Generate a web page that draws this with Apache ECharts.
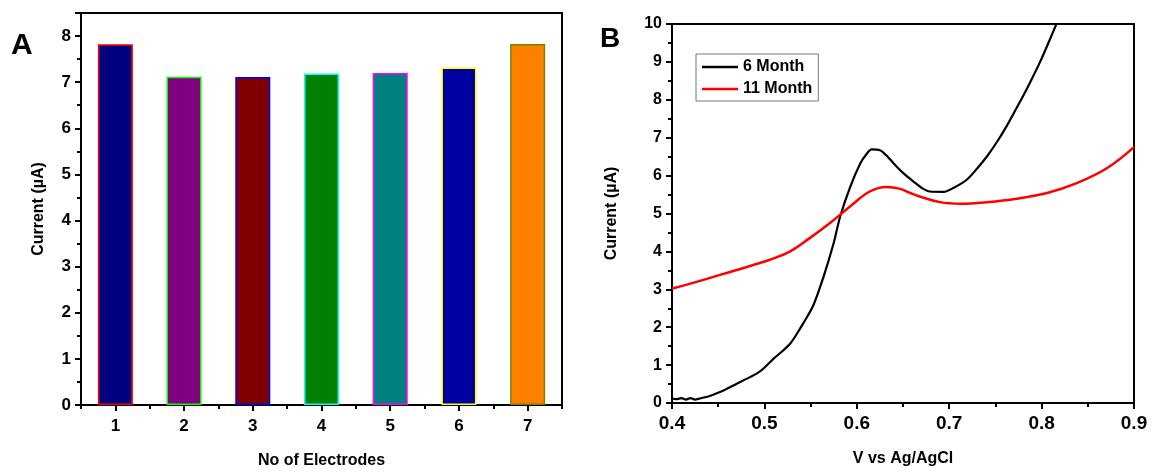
<!DOCTYPE html>
<html>
<head>
<meta charset="utf-8">
<script src="https://cdn.jsdelivr.net/npm/echarts@6/dist/echarts.min.js"></script>
<style>html,body{margin:0;padding:0;background:#fff}#c{width:1153px;height:474px}</style>
</head>
<body>
<div id="c"></div>
<script>
// Panel A data
const electrodes = ['1','2','3','4','5','6','7'];
const currentA = [7.82, 7.12, 7.11, 7.19, 7.20, 7.32, 7.83];
const barFill = ['#000080','#800080','#800000','#008000','#008080','#0000A0','#FF8000'];
const barEdge = ['#FF0000','#00FF00','#0000FF','#00FFFF','#FF00FF','#FFFF00','#808000'];

// Panel B data: [V, current]
const month6 = [[0.400,0.12],[0.405,0.10],[0.410,0.13],[0.415,0.09],[0.420,0.13],[0.425,0.09],[0.430,0.12],
  [0.440,0.18],[0.452,0.29],[0.460,0.38],[0.470,0.51],[0.480,0.63],[0.492,0.78],[0.500,0.93],[0.510,1.17],
  [0.520,1.38],[0.528,1.57],[0.535,1.82],[0.542,2.10],[0.553,2.58],[0.564,3.33],[0.575,4.22],[0.582,4.92],
  [0.593,5.71],[0.604,6.33],[0.610,6.55],[0.616,6.69],[0.625,6.67],[0.634,6.48],[0.643,6.24],[0.650,6.07],
  [0.661,5.85],[0.670,5.68],[0.679,5.58],[0.694,5.57],[0.705,5.68],[0.719,5.89],[0.730,6.18],[0.741,6.51],
  [0.752,6.90],[0.762,7.30],[0.771,7.70],[0.780,8.10],[0.789,8.53],[0.798,8.98],[0.807,9.48],[0.816,10.0],[0.822,10.35]];
const month11 = [[0.400,3.02],[0.417,3.13],[0.434,3.25],[0.452,3.38],[0.470,3.51],[0.488,3.64],[0.506,3.78],
  [0.528,4.00],[0.549,4.35],[0.571,4.75],[0.593,5.19],[0.614,5.58],[0.632,5.70],[0.647,5.65],[0.658,5.54],
  [0.668,5.45],[0.690,5.30],[0.712,5.26],[0.741,5.30],[0.773,5.39],[0.806,5.54],[0.838,5.80],[0.871,6.20],[0.900,6.75]];

const FONT = '"Liberation Sans", Arial, sans-serif';
const chart = echarts.init(document.getElementById('c'), null, {renderer:'canvas'});
const axisLine = {show:true, lineStyle:{color:'#000', width:2}};
const lbl = (size, margin) => ({color:'#000', fontFamily:FONT, fontWeight:'bold', fontSize:size, margin:margin});
const nameStyle = {color:'#000', fontFamily:FONT, fontWeight:'bold', fontSize:16};

chart.setOption({
  animation:false,
  backgroundColor:'#fff',
  graphic:[
    {type:'text', left:11, top:31, style:{text:'A', fontFamily:FONT, fontWeight:'bold', fontSize:30, fill:'#000'}},
    {type:'text', left:600, top:25, style:{text:'B', fontFamily:FONT, fontWeight:'bold', fontSize:28, fill:'#000'}}
  ],
  grid:[
    {left:81, right:591, top:13, bottom:68, show:true, borderColor:'#000', borderWidth:2, backgroundColor:'transparent'},
    {left:672, right:19, top:24, bottom:71, show:true, borderColor:'#000', borderWidth:2, backgroundColor:'transparent'}
  ],
  legend:{
    show:true, orient:'vertical', left:696, top:54,
    padding:[5,6,4,6], itemGap:6, itemWidth:36, itemHeight:2.5, icon:'rect',
    borderColor:'#777', borderWidth:1,
    textStyle:{color:'#000', fontFamily:FONT, fontWeight:'bold', fontSize:16, lineHeight:16},
    data:['6 Month','11 Month']
  },
  xAxis:[
    {type:'category', gridIndex:0, data:electrodes, boundaryGap:true,
     name:'No of Electrodes', nameLocation:'middle', nameGap:48, nameTextStyle:nameStyle,
     axisLine:axisLine, axisTick:{show:true, alignWithLabel:true, length:6, lineStyle:{color:'#000', width:2}},
     axisLabel:lbl(17,13), splitLine:{show:false}},
    {type:'category', gridIndex:0, data:electrodes, boundaryGap:true, position:'bottom',
     axisLine:{show:false}, axisTick:{show:true, length:4, lineStyle:{color:'#000', width:2}},
     axisLabel:{show:false}, splitLine:{show:false}},
    {type:'value', gridIndex:1, min:0.4, max:0.9, interval:0.1,
     name:'V vs Ag/AgCl', nameLocation:'middle', nameGap:48, nameTextStyle:nameStyle,
     axisLine:axisLine, axisTick:{show:true, length:6, lineStyle:{color:'#000', width:2}},
     minorTick:{show:true, splitNumber:2, length:4, lineStyle:{color:'#000', width:2}},
     axisLabel:Object.assign(lbl(19,11), {formatter:v=>v.toFixed(1)}), splitLine:{show:false}}
  ],
  yAxis:[
    {type:'value', gridIndex:0, min:0, max:8.5, interval:1,
     name:'Current (µA)', nameLocation:'middle', nameGap:34, nameTextStyle:nameStyle,
     axisLine:axisLine, axisTick:{show:true, length:6, lineStyle:{color:'#000', width:2}},
     minorTick:{show:true, splitNumber:2, length:4, lineStyle:{color:'#000', width:2}},
     axisLabel:Object.assign(lbl(17,10), {formatter:v=>(v%1===0?String(v):'')}), splitLine:{show:false}},
    {type:'value', gridIndex:1, min:0, max:10, interval:1,
     name:'Current (µA)', nameLocation:'middle', nameGap:52, nameTextStyle:nameStyle,
     axisLine:axisLine, axisTick:{show:true, length:6, lineStyle:{color:'#000', width:2}},
     minorTick:{show:true, splitNumber:2, length:4, lineStyle:{color:'#000', width:2}},
     axisLabel:lbl(16,10), splitLine:{show:false}}
  ],
  series:[
    {type:'bar', xAxisIndex:0, yAxisIndex:0, barWidth:'51%',
     data:currentA.map((v,i)=>({value:v, itemStyle:{color:barFill[i], borderColor:barEdge[i], borderWidth:1.5}}))},
    {type:'line', name:'6 Month', xAxisIndex:2, yAxisIndex:1, data:month6, smooth:0.3, symbol:'none',
     clip:true, lineStyle:{color:'#000', width:2.2}, itemStyle:{color:'#000'}},
    {type:'line', name:'11 Month', xAxisIndex:2, yAxisIndex:1, data:month11, smooth:0.4, symbol:'none',
     clip:true, lineStyle:{color:'#FF0000', width:2.5}, itemStyle:{color:'#FF0000'}}
  ]
});
</script>
</body>
</html>
